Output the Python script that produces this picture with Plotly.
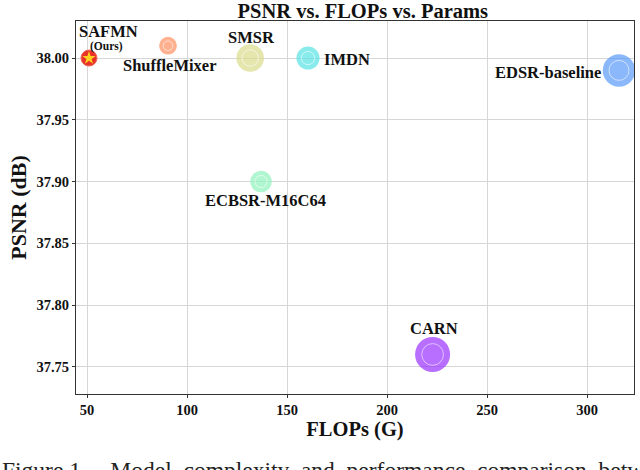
"""PSNR vs. FLOPs vs. Params bubble chart for lightweight SR models."""

import plotly.graph_objects as go

models = ["SAFMN", "ShuffleMixer", "SMSR", "IMDN", "EDSR-baseline", "ECBSR-M16C64", "CARN"]
flops = [51, 90.5, 131.6, 160.5, 316, 137, 222.8]
psnr = [38.00, 38.01, 38.00, 38.00, 37.99, 37.90, 37.76]
params_k = [228, 411, 985, 694, 1370, 596, 1592]
colors = ["#E8332A", "#FF8E5E", "#D8DB8C", "#57E3E3", "#5A9AFA", "#8EF3BE", "#9A30FF"]

y_ticks = [37.75, 37.80, 37.85, 37.90, 37.95, 38.00]
x_ticks = [50, 100, 150, 200, 250, 300]

# label offsets in pixels (xshift, yshift, xanchor)
label_pos = {
    "SAFMN": (19, 27, "center"),
    "ShuffleMixer": (1, -20, "center"),
    "SMSR": (1, 21, "center"),
    "IMDN": (14, -1, "left"),
    "EDSR-baseline": (-16, -2, "right"),
    "ECBSR-M16C64": (4, -19, "center"),
    "CARN": (1, 26, "center"),
}

SERIF = "Liberation Serif, Times New Roman, serif"
SIZEREF = 2.6

fig = go.Figure()

# other models: bubble area ~ params
fig.add_trace(
    go.Scatter(
        x=flops[1:],
        y=psnr[1:],
        mode="markers",
        marker=dict(
            size=params_k[1:],
            sizemode="area",
            sizeref=SIZEREF,
            color=colors[1:],
            line=dict(width=0),
        ),
        hoverinfo="skip",
        showlegend=False,
    )
)

# thin white inner ring on each bubble
inner = [max((p / SIZEREF) ** 0.5 - 3, 2) for p in params_k[1:]]
fig.add_trace(
    go.Scatter(
        x=flops[1:],
        y=psnr[1:],
        mode="markers",
        marker=dict(
            size=inner,
            symbol="circle-open",
            color="rgba(255,255,255,0.8)",
            line=dict(width=1),
        ),
        hoverinfo="skip",
        showlegend=False,
    )
)

# ours: red disc with a yellow star
fig.add_trace(
    go.Scatter(
        x=flops[:1],
        y=psnr[:1],
        mode="markers",
        marker=dict(size=16, color=colors[0], line=dict(width=1, color="#F06A5A")),
        hoverinfo="skip",
        showlegend=False,
    )
)
fig.add_trace(
    go.Scatter(
        x=flops[:1],
        y=psnr[:1],
        mode="markers",
        marker=dict(size=10, symbol="star", color="#FFD21F", line=dict(width=0)),
        hoverinfo="skip",
        showlegend=False,
    )
)

for name, fx, py in zip(models, flops, psnr):
    dx, dy, anchor = label_pos[name]
    fig.add_annotation(
        x=fx, y=py, xref="x", yref="y",
        text=f"<b>{name}</b>",
        showarrow=False,
        xshift=dx, yshift=dy,
        xanchor=anchor, yanchor="middle",
        font=dict(family=SERIF, size=16.5, color="#111"),
    )

fig.add_annotation(
    x=flops[0], y=psnr[0], xref="x", yref="y",
    text="<b>(Ours)</b>", showarrow=False,
    xshift=17, yshift=12, xanchor="center", yanchor="middle",
    font=dict(family=SERIF, size=11.5, color="#111"),
)

fig.add_annotation(
    x=-0.136, y=-0.163, xref="paper", yref="paper",
    text="Figure 1.&nbsp;&nbsp;&nbsp; Model&nbsp; complexity&nbsp; and&nbsp; performance&nbsp; comparison&nbsp; between",
    showarrow=False, xanchor="left", yanchor="top",
    font=dict(family=SERIF, size=23.5, color="#222"),
)

fig.update_layout(
    width=640,
    height=470,
    margin=dict(l=76, r=6, t=21, b=76),
    paper_bgcolor="white",
    plot_bgcolor="white",
    title=dict(
        text="<b>PSNR vs. FLOPs vs. Params</b>",
        x=0.514, xref="paper", xanchor="center", y=0.977, yanchor="middle",
        font=dict(family=SERIF, size=20.5, color="#111"),
    ),
    font=dict(family=SERIF, color="#111"),
)

axis_common = dict(
    automargin=False,
    showgrid=True,
    gridcolor="#d6d6d6",
    gridwidth=1,
    showline=True,
    linecolor="#333",
    linewidth=1,
    mirror=True,
    ticks="outside",
    ticklen=3,
    tickcolor="#333",
    zeroline=False,
    tickfont=dict(family=SERIF, size=14.5, color="#111"),
)

fig.update_xaxes(
    **axis_common,
    range=[44.5, 323.5],
    tickvals=x_ticks,
    ticktext=[f"<b>{v}</b>" for v in x_ticks],
    title=dict(text="<b>FLOPs (G)</b>", font=dict(family=SERIF, size=20.5), standoff=0),
)
fig.update_yaxes(
    **axis_common,
    range=[37.728, 38.030],
    tickvals=y_ticks,
    ticktext=[f"<b>{v:.2f}</b>" for v in y_ticks],
    title=dict(text="<b>PSNR (dB)</b>", font=dict(family=SERIF, size=22), standoff=3),
)

fig.write_html(
    "out.html",
    config={"displayModeBar": False},
    post_script="document.body.style.margin='0';",
)
